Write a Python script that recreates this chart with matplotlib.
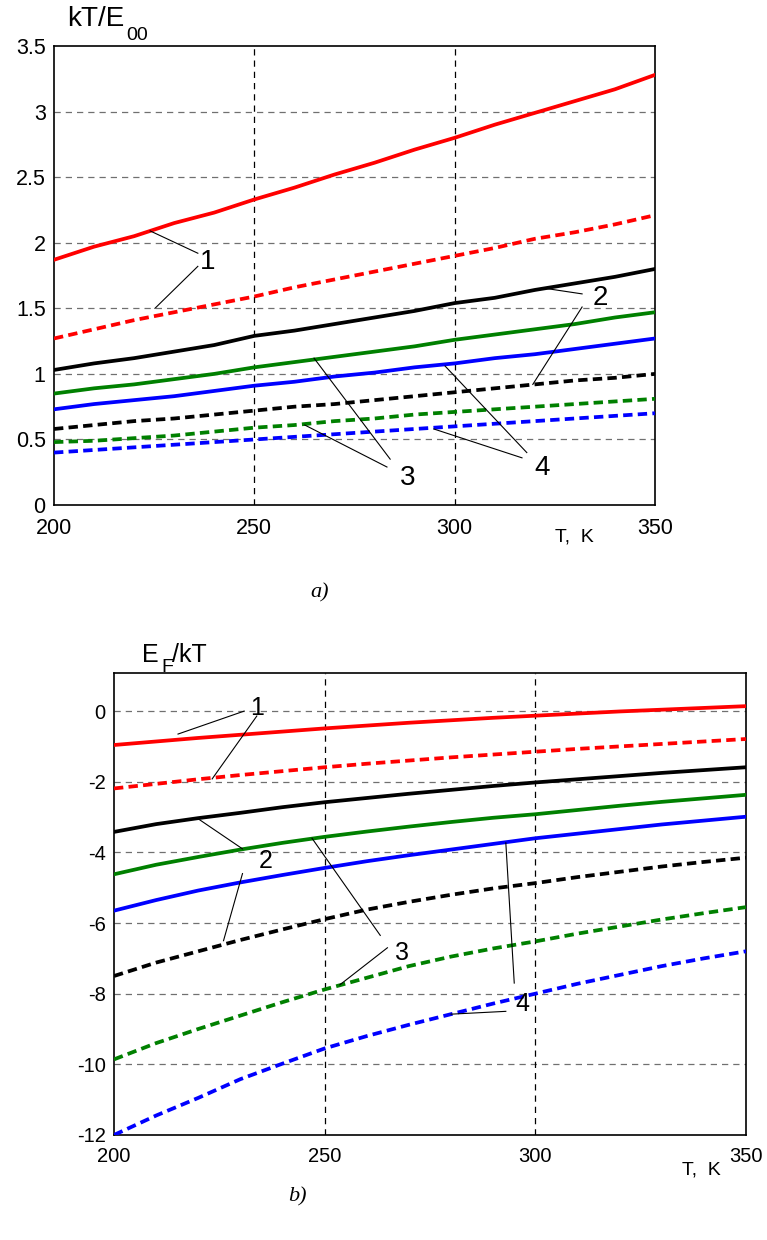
import numpy as np
import matplotlib.pyplot as plt

plt.rcParams['font.family'] = ['Liberation Sans', 'DejaVu Sans']

T = [200, 210, 220, 230, 240, 250, 260, 270, 280, 290, 300, 310, 320, 330, 340, 350]

# panel a) kT/E00
a_red = [1.87, 1.97, 2.05, 2.15, 2.23, 2.33, 2.42, 2.52, 2.61, 2.71, 2.80, 2.90, 2.99, 3.08, 3.17, 3.28]
a_red_d = [1.27, 1.34, 1.41, 1.47, 1.53, 1.59, 1.66, 1.72, 1.78, 1.84, 1.90, 1.96, 2.03, 2.08, 2.14, 2.21]
a_black = [1.03, 1.08, 1.12, 1.17, 1.22, 1.29, 1.33, 1.38, 1.43, 1.48, 1.54, 1.58, 1.64, 1.69, 1.74, 1.80]
a_green = [0.85, 0.89, 0.92, 0.96, 1.00, 1.05, 1.09, 1.13, 1.17, 1.21, 1.26, 1.30, 1.34, 1.38, 1.43, 1.47]
a_blue = [0.73, 0.77, 0.80, 0.83, 0.87, 0.91, 0.94, 0.98, 1.01, 1.05, 1.08, 1.12, 1.15, 1.19, 1.23, 1.27]
a_black_d = [0.58, 0.61, 0.64, 0.66, 0.69, 0.72, 0.75, 0.77, 0.80, 0.83, 0.86, 0.89, 0.92, 0.95, 0.97, 1.00]
a_green_d = [0.48, 0.49, 0.51, 0.53, 0.56, 0.59, 0.61, 0.64, 0.66, 0.69, 0.71, 0.73, 0.75, 0.77, 0.79, 0.81]
a_blue_d = [0.40, 0.42, 0.44, 0.46, 0.48, 0.50, 0.52, 0.54, 0.56, 0.58, 0.60, 0.62, 0.64, 0.66, 0.68, 0.70]

# panel b) EF/kT
b_red = [-0.96, -0.86, -0.76, -0.67, -0.58, -0.49, -0.41, -0.33, -0.26, -0.19, -0.13, -0.07, -0.01, 0.04, 0.09, 0.14]
b_red_d = [-2.19, -2.06, -1.93, -1.81, -1.70, -1.59, -1.49, -1.40, -1.31, -1.23, -1.15, -1.07, -1.00, -0.93, -0.86, -0.79]
b_black = [-3.42, -3.20, -3.03, -2.88, -2.72, -2.58, -2.46, -2.34, -2.23, -2.12, -2.02, -1.93, -1.84, -1.75, -1.67, -1.59]
b_green = [-4.62, -4.35, -4.13, -3.92, -3.73, -3.56, -3.41, -3.27, -3.14, -3.02, -2.92, -2.80, -2.68, -2.57, -2.47, -2.37]
b_blue = [-5.65, -5.35, -5.08, -4.85, -4.64, -4.44, -4.25, -4.08, -3.92, -3.76, -3.60, -3.47, -3.34, -3.21, -3.10, -2.99]
b_black_d = [-7.50, -7.12, -6.80, -6.48, -6.18, -5.89, -5.62, -5.40, -5.20, -5.02, -4.87, -4.70, -4.55, -4.40, -4.27, -4.15]
b_green_d = [-9.86, -9.40, -9.00, -8.62, -8.24, -7.88, -7.55, -7.22, -6.95, -6.72, -6.52, -6.30, -6.10, -5.90, -5.72, -5.55]
b_blue_d = [-12.0, -11.45, -10.95, -10.42, -9.98, -9.55, -9.20, -8.88, -8.58, -8.28, -8.00, -7.72, -7.47, -7.22, -7.00, -6.80]

colors = ['red', 'black', 'green', 'blue']
a_solid = [a_red, a_black, a_green, a_blue]
a_dash = [a_red_d, a_black_d, a_green_d, a_blue_d]
b_solid = [b_red, b_black, b_green, b_blue]
b_dash = [b_red_d, b_black_d, b_green_d, b_blue_d]

# labels: (text, text position, [(line start, line end), ...])
a_notes = [('1', (238.4, 1.85), [((235.9, 1.92), (224.0, 2.09)), ((235.9, 1.82), (225.2, 1.50))]),
           ('2', (336.3, 1.58), [((331.8, 1.61), (322.0, 1.655)), ((331.8, 1.51), (319.5, 0.92))]),
           ('3', (288.3, 0.21), [((283.9, 0.35), (264.9, 1.12)), ((283.1, 0.29), (262.6, 0.61))]),
           ('4', (321.8, 0.28), [((318.0, 0.40), (297.6, 1.06)), ((316.8, 0.36), (294.8, 0.58))])]
b_notes = [('1', (233.9, 0.08), [((230.9, 0.0), (215.2, -0.65)), ((233.9, -0.14), (223.3, -1.92))]),
           ('2', (236.0, -4.25), [((230.5, -3.9), (220.0, -3.05)), ((230.5, -4.6), (226.0, -6.5))]),
           ('3', (268.4, -6.85), [((263.2, -6.35), (247.0, -3.6)), ((264.9, -6.7), (253.6, -7.75))]),
           ('4', (297.0, -8.3), [((295.0, -7.7), (293.0, -3.73)), ((293.0, -8.5), (280.0, -8.58))])]

fig = plt.figure(figsize=(7.67, 12.4), dpi=100)


def setup(ax, ylim, yticks, fs):
    ax.set_xlim(200, 350)
    ax.set_ylim(*ylim)
    ax.set_xticks([200, 250, 300, 350])
    ax.set_xticklabels(['200', '250', '300', '350'])
    ax.set_yticks(yticks)
    ax.set_yticklabels(['%g' % y for y in yticks])
    ax.tick_params(length=0, labelsize=fs, pad=6)
    ax.tick_params(axis='x', pad=9)
    for s in ax.spines.values():
        s.set_linewidth(1.2)
    for y in yticks:
        if ylim[0] < y < ylim[1]:
            ax.axhline(y, color='#707070', lw=0.9, ls=(0, (5, 4)), zorder=1)
    for x in [250, 300]:
        ax.axvline(x, color='black', lw=0.9, ls=(0, (5, 4)), zorder=1)


def draw(ax, solid, dash, notes, fs):
    for c, ys in zip(colors, solid):
        ax.plot(T, ys, color=c, lw=2.7, zorder=3)
    for c, ys in zip(colors, dash):
        ax.plot(T, ys, color=c, lw=2.7, ls=(0, (2.5, 1.4)), zorder=3)
    for txt, pos, lines in notes:
        ax.text(pos[0], pos[1], txt, fontsize=fs, ha='center', va='center', zorder=4)
        for p0, p1 in lines:
            ax.plot([p0[0], p1[0]], [p0[1], p1[1]], color='black', lw=0.8, zorder=4)


ax1 = fig.add_axes([0.0704, 0.5927, 0.7836, 0.3702])
setup(ax1, (0, 3.5), [0, 0.5, 1, 1.5, 2, 2.5, 3, 3.5], 15.5)
draw(ax1, a_solid, a_dash, a_notes, 20)
fig.text(67 / 767, 1 - 19 / 1240, 'kT/E', fontsize=20, ha='left', va='center')
fig.text(126 / 767, 1 - 35 / 1240, '00', fontsize=14, ha='left', va='center')
ax1.text(329.8, -0.05, 'T,  K', transform=ax1.get_xaxis_transform(), fontsize=14, ha='center', va='top')
fig.text(320 / 767, 1 - 593 / 1240, 'a)', fontsize=16, style='italic', family='Liberation Serif',
         ha='center', va='center')

ax2 = fig.add_axes([0.1486, 0.0847, 0.824, 0.3726])
setup(ax2, (-12, 1.08), [-12, -10, -8, -6, -4, -2, 0], 14.5)
draw(ax2, b_solid, b_dash, b_notes, 18)
fig.text(142 / 767, 1 - 655 / 1240, 'E', fontsize=18, ha='left', va='center')
fig.text(161 / 767, 1 - 668 / 1240, 'F', fontsize=14, ha='left', va='center')
fig.text(172 / 767, 1 - 655 / 1240, '/kT', fontsize=18, ha='left', va='center')
ax2.text(339.5, -0.075, 'T,  K', transform=ax2.get_xaxis_transform(), fontsize=14, ha='center', va='center')
fig.text(297 / 767, 1 - 1197 / 1240, 'b)', fontsize=16, style='italic', family='Liberation Serif',
         ha='center', va='center')

fig.savefig('out.png', dpi=100)
